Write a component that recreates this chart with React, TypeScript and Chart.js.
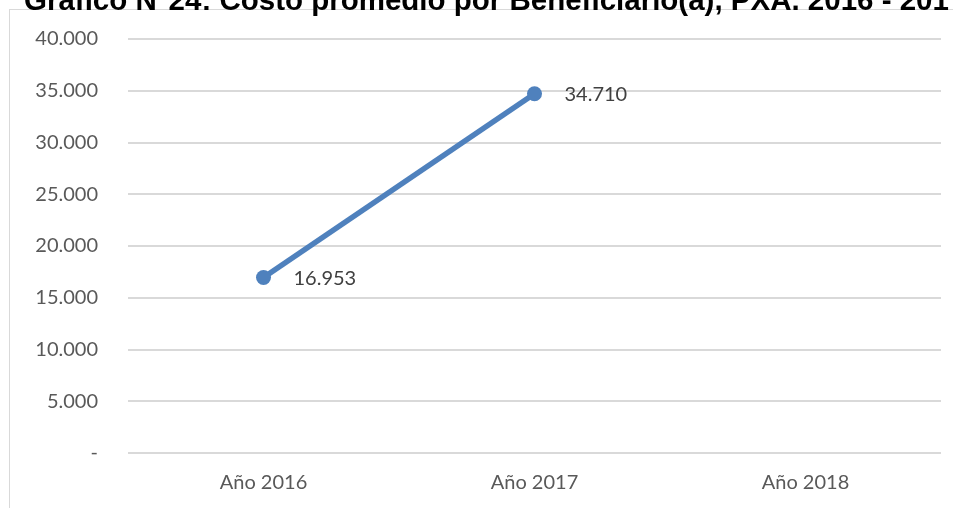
import React, { useEffect, useRef } from "react";
import { Chart, registerables } from "chart.js";

Chart.register(...registerables);

const titleText = "Gráfico N°24: Costo promedio por Beneficiario(a), PXA. 2016 - 2017";
const categories = ["Año 2016", "Año 2017", "Año 2018"];
const costValues: (number | null)[] = [16953, 34710, null];
const yMin = 0;
const yMax = 40000;
const yStep = 5000;

const fmt = (v: number) => {
  if (v === 0) return "-";
  return Math.round(v).toString().replace(/\B(?=(\d{3})+(?!\d))/g, ".");
};

const labelPlugin = {
  id: "pointLabels",
  afterDatasetsDraw(chart: any) {
    const ctx = chart.ctx;
    const meta = chart.getDatasetMeta(0);
    ctx.save();
    ctx.font = "20px Lato";
    ctx.fillStyle = "#404040";
    ctx.textAlign = "left";
    ctx.textBaseline = "middle";
    meta.data.forEach((pt: any, i: number) => {
      const v = costValues[i];
      if (v == null) return;
      ctx.fillText(fmt(v), pt.x + 30, pt.y + 1);
    });
    ctx.restore();
  },
};

export default function App() {
  const ref = useRef<HTMLCanvasElement>(null);
  useEffect(() => {
    if (!ref.current) return;
    const chart = new Chart(ref.current, {
      type: "line",
      data: {
        labels: categories,
        datasets: [
          {
            data: costValues,
            borderColor: "#4f81bd",
            backgroundColor: "#4f81bd",
            borderWidth: 5.5,
            pointRadius: 7.5,
            pointBackgroundColor: "#4f81bd",
            pointBorderWidth: 0,
            spanGaps: false,
          },
        ],
      },
      options: {
        responsive: false,
        animation: false,
        layout: { padding: { left: 0, right: 12, top: 32, bottom: 0 } },
        plugins: { legend: { display: false }, tooltip: { enabled: false } },
        scales: {
          x: {
            offset: true,
            grid: { display: false, drawTicks: false },
            border: { display: false },
            ticks: { color: "#595959", font: { family: "Lato", size: 20 }, padding: 18 },
            afterFit: (s: any) => {
              s.height = 55;
            },
          },
          y: {
            min: yMin,
            max: yMax,
            grid: { color: "#d9d9d9", lineWidth: 2, drawTicks: false },
            border: { display: false },
            ticks: {
              stepSize: yStep,
              color: "#595959",
              font: { family: "Lato", size: 20 },
              padding: 30,
              callback: (v: any) => fmt(Number(v)),
            },
            afterFit: (s: any) => {
              s.width = 128;
            },
          },
        },
      },
      plugins: [labelPlugin],
    });
    return () => chart.destroy();
  }, []);

  return (
    <div
      style={{
        position: "absolute",
        left: 0,
        top: 0,
        width: 953,
        height: 508,
        overflow: "hidden",
        background: "#ffffff",
      }}
    >
      <div
        style={{
          position: "absolute",
          left: 9,
          top: 9,
          width: 1100,
          height: 600,
          border: "1px solid #d9d9d9",
        }}
      />
      <canvas ref={ref} width={953} height={511} style={{ position: "absolute", left: 0, top: -3 }} />
      <div
        style={{
          position: "absolute",
          left: 24,
          top: -15,
          whiteSpace: "nowrap",
          fontFamily: "'Liberation Sans', Arial, sans-serif",
          fontWeight: "bold",
          fontSize: 29.5,
          lineHeight: "30px",
          color: "#000",
        }}
      >
        {titleText}
      </div>
    </div>
  );
}
